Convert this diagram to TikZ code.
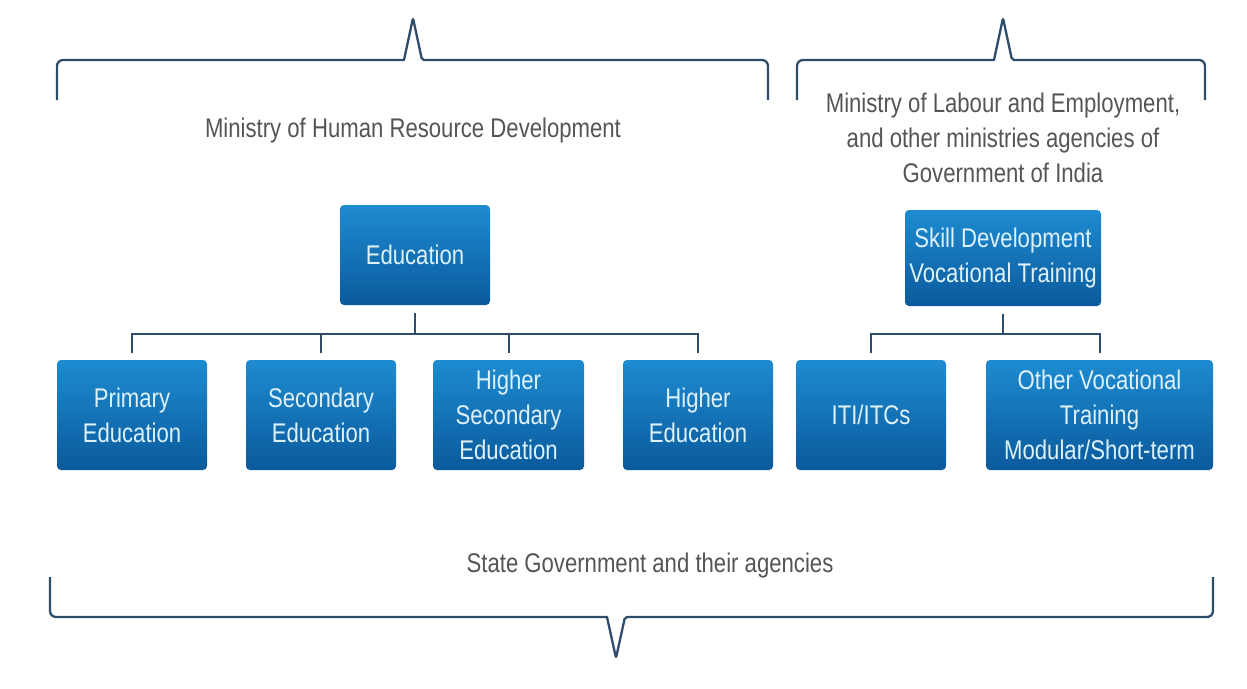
\documentclass[tikz,border=0pt]{standalone}
\usepackage{fontspec}
\setmainfont{Liberation Sans}[FakeStretch=0.82]
\usetikzlibrary{calc}
\definecolor{boxtop}{HTML}{1E8BD0}
\definecolor{boxbot}{HTML}{0A5A9C}
\definecolor{boxtxt}{HTML}{DDF1FB}
\definecolor{linec}{HTML}{2E4D6A}
\definecolor{labtxt}{HTML}{555555}
\tikzset{
  unitbox/.style={rounded corners=4pt, top color=boxtop, bottom color=boxbot,
    draw=none, text=boxtxt, align=center, inner sep=0pt,
    font=\fontsize{27}{35}\selectfont},
  lab/.style={text=labtxt, align=center, inner sep=0pt,
    font=\fontsize{27}{35}\selectfont},
  conn/.style={draw=linec, line width=2pt},
  bracec/.style={draw=linec, line width=2.3pt, line join=round}
}
\begin{document}
\begin{tikzpicture}[x=1pt,y=-1pt]
\useasboundingbox (0,0) rectangle (1247,688);
% braces
\draw[bracec] (57,100) [rounded corners=6pt] -- (57,60) [sharp corners] -- (404,60) [rounded corners=2pt] -- (413,18) -- (422,60) [sharp corners] -- (762,60) [rounded corners=6pt] -- (768,60) -- (768,100);
\draw[bracec] (797,100) [rounded corners=6pt] -- (797,60) [sharp corners] -- (994,60) [rounded corners=2pt] -- (1003,18) -- (1012,60) [sharp corners] -- (1199,60) [rounded corners=6pt] -- (1205,60) -- (1205,100);
\draw[bracec] (50,577) [rounded corners=6pt] -- (50,617) [sharp corners] -- (607,617) [rounded corners=2pt] -- (616,658) -- (625,617) [sharp corners] -- (1207,617) [rounded corners=6pt] -- (1213,617) -- (1213,577);
% labels
\node[lab] (mhrd) at (413,131) {Ministry of Human Resource Development};
\node[lab] (mole) at (1003,138) {Ministry of Labour and Employment,\\and other ministries agencies of\\Government of India};
\node[lab] (state) at (650,566) {State Government and their agencies};
% boxes
\node[unitbox, minimum width=150pt, minimum height=100pt] (edu) at (415,255) {Education};
\node[unitbox, minimum width=196pt, minimum height=96pt] (skill) at (1003,258) {Skill Development\\Vocational Training};
\node[unitbox, minimum width=150pt, minimum height=110pt] (prim) at (132,415) {Primary\\Education};
\node[unitbox, minimum width=150pt, minimum height=110pt] (sec) at (321,415) {Secondary\\Education};
\node[unitbox, minimum width=151pt, minimum height=110pt] (hsec) at (508.5,415) {Higher\\Secondary\\Education};
\node[unitbox, minimum width=150pt, minimum height=110pt] (high) at (698,415) {Higher\\Education};
\node[unitbox, minimum width=150pt, minimum height=110pt] (iti) at (871,415) {ITI/ITCs};
\node[unitbox, minimum width=227pt, minimum height=110pt] (other) at (1099.5,415) {Other Vocational\\Training\\Modular/Short-term};
% junction coordinates
\coordinate (barL) at (415,334);
\coordinate (barR) at (1004,334);
% connectors
\draw[conn] ([yshift=-8pt]edu.south) -- (edu.south |- barL);
\draw[conn] ([yshift=7pt]prim.north) -- (prim.north |- barL) -- (high.north |- barL) -- ([yshift=7pt]high.north);
\draw[conn] ([yshift=7pt]sec.north) -- (sec.north |- barL);
\draw[conn] ([yshift=7pt]hsec.north) -- (hsec.north |- barL);
\draw[conn] ([yshift=-8pt]skill.south) -- (skill.south |- barR);
\draw[conn] ([yshift=7pt]iti.north) -- (iti.north |- barR) -- (other.north |- barR) -- ([yshift=7pt]other.north);
\end{tikzpicture}
\end{document}
